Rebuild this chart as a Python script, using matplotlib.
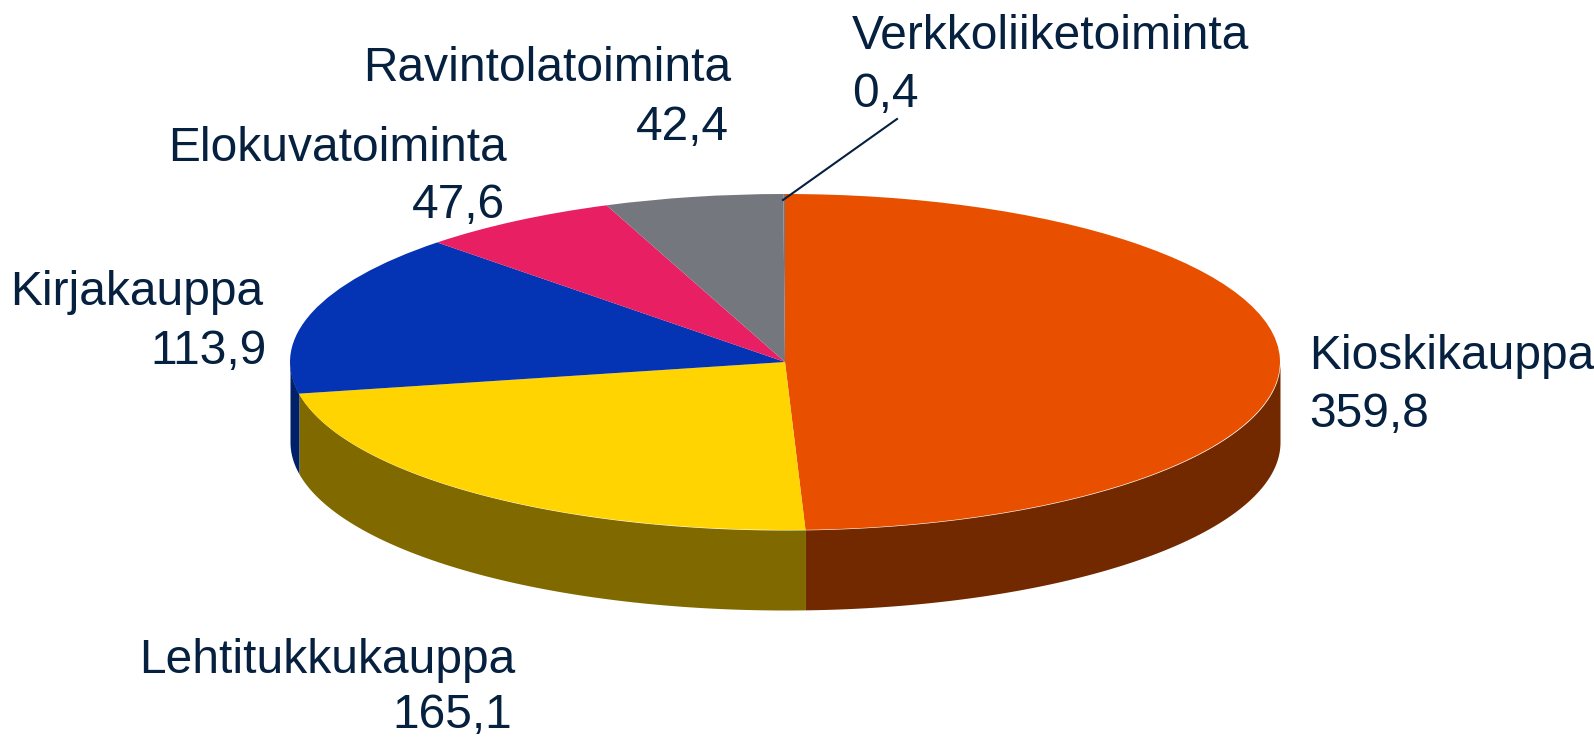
import numpy as np
import matplotlib
matplotlib.use('Agg')
import matplotlib.pyplot as plt
from matplotlib.lines import Line2D

plt.rcParams['font.family'] = ['Liberation Sans', 'DejaVu Sans']

# data
names = ['Kioskikauppa', 'Lehtitukkukauppa', 'Kirjakauppa', 'Elokuvatoiminta', 'Ravintolatoiminta', 'Verkkoliiketoiminta']
values = [359.8, 165.1, 113.9, 47.6, 42.4, 0.4]
top_colors = ['#E85000', '#FFD400', '#0433B4', '#E81F63', '#75777F', '#75777F']
side_colors = ['#732900', '#806A00', '#00206A', '#740F31', '#3A3B3F', '#3A3B3F']

W, H = 1594, 737
cx, cy, rx, ry, depth = 785, 362, 495, 168, 80
text_color = '#06203F'
font_size = 34.5

fig = plt.figure(figsize=(W / 100, H / 100), dpi=100, facecolor='white')
ax = fig.add_axes([0, 0, 1, 1])

# top of the pie, squashed by the axis limits
ax.pie(values, colors=top_colors, startangle=90, counterclock=False, radius=1,
       wedgeprops={'linewidth': 0, 'zorder': 3})
ax.set_aspect('auto')
ax.set_xlim(-cx / rx, (W - cx) / rx)
ax.set_ylim((cy - H) / ry, cy / ry)

# side of the pie, only the front half can be seen
ends = np.cumsum(values) / np.sum(values) * 360
starts = np.concatenate([[0], ends[:-1]])
d = depth / ry
for a, b, c in zip(starts, ends, side_colors):
    a2, b2 = max(a, 90), min(b, 270)
    if b2 <= a2:
        continue
    t = np.radians(np.linspace(a2, b2, 200))
    ax.fill_between(np.sin(t), np.cos(t), np.cos(t) - d, color=c, linewidth=0, zorder=2)


def label(x, y, s, ha):
    fig.text(x / W, 1 - y / H, s, ha=ha, va='baseline', fontsize=font_size, color=text_color)


def val(v):
    return str(v).replace('.', ',')


label(1309, 369, names[0], 'left')
label(1309, 427, val(values[0]), 'left')
label(515, 673, names[1], 'right')
label(512, 728, val(values[1]), 'right')
label(263, 305, names[2], 'right')
label(267, 364, val(values[2]), 'right')
label(507, 161, names[3], 'right')
label(505, 218, val(values[3]), 'right')
label(731, 81, names[4], 'right')
label(729, 140, val(values[4]), 'right')
label(852, 49, names[5], 'left')
label(852, 107, val(values[5]), 'left')

# leader line for the smallest slice
fig.add_artist(Line2D([897 / W, 783 / W], [1 - 119 / H, 1 - 200 / H], color=text_color, linewidth=1.5))

fig.savefig('out.png', dpi=100)
